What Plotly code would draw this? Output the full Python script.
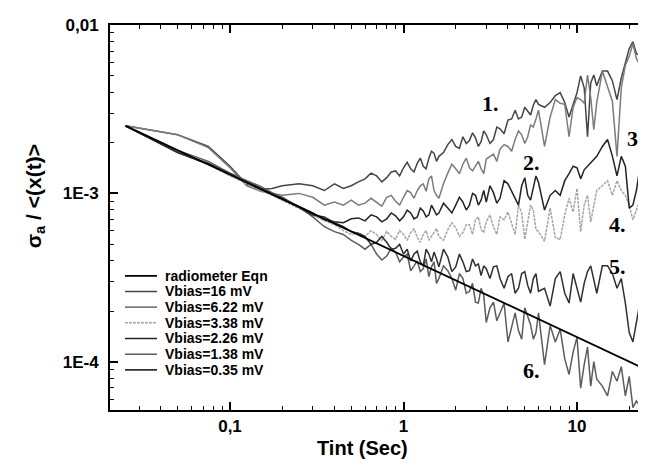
import plotly.graph_objects as go

# integration times (s): main sampling grid and the extra in-between samples (1-6 s zone)
tint = [0.025, 0.05, 0.075, 0.1, 0.125, 0.15, 0.175, 0.2, 0.25, 0.3, 0.35, 0.4, 0.45, 0.5,
        0.55, 0.6, 0.7, 0.8, 0.9, 1.0, 1.1, 1.2, 1.3, 1.4, 1.5, 1.6, 1.8, 2.0, 2.2, 2.4,
        2.6, 2.8, 3.0, 3.3, 3.6, 4.0, 4.4, 4.8, 5.2, 5.6, 6.0, 6.5, 7.0, 7.5, 8.0, 8.5,
        9.0, 9.5, 10, 10.5, 11, 11.5, 12, 12.5, 13, 14, 15, 16, 17, 18, 19, 20, 21, 22,
        23, 24, 25]
tint_mid = [0.65, 0.75, 0.85, 0.95, 1.05, 1.15, 1.25, 1.35, 1.45, 1.55, 1.7, 1.9, 2.1, 2.3,
            2.5, 2.7, 2.9, 3.15, 3.45, 3.8, 4.2, 4.6, 5.0, 5.4, 5.8]

rad_x = [0.025, 25]
rad_y = [2.52e-3, 9.0e-5]

v16 = [2.52e-3, 2.23e-3, 1.90e-3, 1.45e-3, 1.13e-3, 1.06e-3, 1.07e-3, 1.11e-3, 1.14e-3, 1.11e-3,
       1.04e-3, 1.14e-3, 1.07e-3, 1.11e-3, 1.17e-3, 1.22e-3, 1.27e-3, 1.24e-3, 1.36e-3, 1.42e-3,
       1.40e-3, 1.51e-3, 1.45e-3, 1.62e-3, 1.73e-3, 1.66e-3, 1.95e-3, 1.90e-3, 2.17e-3, 2.06e-3,
       2.14e-3, 2.03e-3, 2.23e-3, 2.09e-3, 2.42e-3, 2.73e-3, 3.12e-3, 2.84e-3, 3.08e-3, 3.34e-3,
       3.38e-3, 3.25e-3, 3.47e-3, 3.81e-3, 3.97e-3, 3.47e-3, 2.84e-3, 3.38e-3, 3.97e-3, 4.99e-3,
       4.24e-3, 2.17e-3, 4.54e-3, 5.05e-3, 4.36e-3, 5.33e-3, 5.33e-3, 4.66e-3, 3.61e-3, 4.85e-3,
       6.09e-3, 7.25e-3, 7.96e-3, 6.78e-3, 6.60e-3, 7.45e-3, 7.75e-3]
v16_mid = [1.32e-3, 1.17e-3, 1.34e-3, 1.27e-3, 1.53e-3, 1.34e-3, 1.62e-3, 1.40e-3, 1.78e-3,
           1.55e-3, 1.75e-3, 2.09e-3, 1.85e-3, 1.98e-3, 2.29e-3, 1.90e-3, 2.35e-3, 1.98e-3,
           2.48e-3, 2.26e-3, 2.77e-3, 2.77e-3, 3.25e-3, 2.92e-3, 3.61e-3]

v622 = [2.52e-3, 2.23e-3, 1.87e-3, 1.42e-3, 1.11e-3, 1.03e-3, 1.00e-3, 9.74e-4, 1.00e-3, 9.48e-4,
        8.52e-4, 8.87e-4, 8.52e-4, 9.11e-4, 8.52e-4, 8.75e-4, 8.87e-4, 9.48e-4, 8.98e-4, 9.48e-4,
        1.01e-3, 1.04e-3, 1.14e-3, 1.22e-3, 1.04e-3, 9.35e-4, 1.32e-3, 1.40e-3, 1.49e-3, 1.42e-3,
        1.45e-3, 1.40e-3, 1.60e-3, 1.71e-3, 1.83e-3, 1.90e-3, 2.09e-3, 2.23e-3, 2.17e-3, 2.48e-3,
        3.12e-3, 1.90e-3, 2.84e-3, 3.61e-3, 3.43e-3, 3.38e-3, 2.17e-3, 3.25e-3, 3.71e-3, 3.61e-3,
        3.43e-3, 5.05e-3, 3.71e-3, 2.39e-3, 3.47e-3, 5.33e-3, 4.24e-3, 3.52e-3, 1.66e-3, 4.24e-3,
        5.78e-3, 6.52e-3, 7.75e-3, 6.34e-3, 5.78e-3, 6.34e-3, 6.78e-3]
v622_mid = [9.35e-4, 8.40e-4, 9.74e-4, 8.52e-4, 1.04e-3, 9.35e-4, 1.11e-3, 1.03e-3, 1.27e-3,
            9.74e-4, 1.14e-3, 1.49e-3, 1.31e-3, 1.62e-3, 1.36e-3, 1.55e-3, 1.31e-3, 1.66e-3,
            1.55e-3, 1.95e-3, 1.78e-3, 2.35e-3, 1.98e-3, 2.55e-3, 2.77e-3]

v226 = [2.52e-3, 1.75e-3, 1.51e-3, 1.31e-3, 1.17e-3, 1.07e-3, 1.00e-3, 9.35e-4, 8.40e-4, 7.65e-4,
        6.97e-4, 6.78e-4, 6.69e-4, 7.06e-4, 7.15e-4, 6.87e-4, 7.25e-4, 7.06e-4, 7.35e-4, 7.25e-4,
        7.65e-4, 7.25e-4, 7.86e-4, 7.45e-4, 7.96e-4, 7.65e-4, 8.18e-4, 8.52e-4, 8.87e-4, 8.52e-4,
        9.74e-4, 9.11e-4, 8.87e-4, 1.01e-3, 9.35e-4, 1.14e-3, 9.35e-4, 1.11e-3, 9.74e-4, 1.08e-3,
        1.16e-3, 7.96e-4, 9.74e-4, 1.04e-3, 9.74e-4, 1.19e-3, 1.31e-3, 1.45e-3, 1.42e-3, 1.22e-3,
        1.38e-3, 1.45e-3, 1.51e-3, 1.60e-3, 1.66e-3, 1.90e-3, 2.09e-3, 1.66e-3, 1.27e-3, 1.66e-3,
        1.45e-3, 8.18e-4, 8.52e-4, 1.04e-3, 1.45e-3, 1.90e-3, 2.32e-3]
v226_mid = [7.45e-4, 6.78e-4, 7.65e-4, 6.87e-4, 7.96e-4, 7.06e-4, 8.18e-4, 7.25e-4, 8.52e-4,
            7.45e-4, 8.75e-4, 7.65e-4, 9.48e-4, 7.96e-4, 1.00e-3, 8.52e-4, 1.04e-3, 1.11e-3,
            8.75e-4, 1.19e-3, 1.04e-3, 8.52e-4, 1.24e-3, 9.11e-4, 1.27e-3]

v338 = [2.52e-3, 1.75e-3, 1.49e-3, 1.27e-3, 1.14e-3, 1.04e-3, 9.74e-4, 9.11e-4, 8.18e-4, 7.45e-4,
        6.87e-4, 6.52e-4, 6.01e-4, 5.70e-4, 5.85e-4, 5.55e-4, 5.70e-4, 5.93e-4, 5.33e-4, 5.70e-4,
        5.85e-4, 5.47e-4, 5.70e-4, 5.26e-4, 5.85e-4, 5.55e-4, 6.09e-4, 6.26e-4, 5.85e-4, 6.52e-4,
        6.97e-4, 6.09e-4, 6.78e-4, 6.34e-4, 7.25e-4, 7.75e-4, 5.70e-4, 7.65e-4, 6.78e-4, 7.96e-4,
        5.93e-4, 5.19e-4, 8.18e-4, 5.47e-4, 5.33e-4, 7.45e-4, 9.35e-4, 7.75e-4, 1.07e-3, 5.93e-4,
        8.52e-4, 9.74e-4, 6.78e-4, 8.52e-4, 1.04e-3, 1.11e-3, 1.19e-3, 9.74e-4, 1.19e-3, 1.04e-3,
        9.74e-4, 8.52e-4, 6.97e-4, 7.96e-4, 9.11e-4, 1.04e-3, 1.11e-3]
v338_mid = [6.01e-4, 5.26e-4, 5.55e-4, 6.01e-4, 5.26e-4, 6.18e-4, 5.12e-4, 6.01e-4, 5.55e-4,
            6.18e-4, 5.26e-4, 6.69e-4, 5.55e-4, 6.52e-4, 5.70e-4, 7.25e-4, 5.85e-4, 7.45e-4,
            5.70e-4, 6.97e-4, 6.52e-4, 8.52e-4, 5.33e-4, 8.52e-4, 6.09e-4]

v035 = [2.52e-3, 1.75e-3, 1.49e-3, 1.31e-3, 1.16e-3, 1.07e-3, 9.87e-4, 9.35e-4, 8.29e-4, 7.45e-4,
        7.25e-4, 6.69e-4, 6.34e-4, 5.93e-4, 5.78e-4, 5.55e-4, 5.12e-4, 5.12e-4, 4.72e-4, 4.36e-4,
        3.97e-4, 4.54e-4, 3.71e-4, 4.36e-4, 4.48e-4, 3.66e-4, 4.19e-4, 3.66e-4, 3.92e-4, 3.47e-4,
        3.71e-4, 3.25e-4, 3.57e-4, 3.66e-4, 3.12e-4, 3.20e-4, 2.55e-4, 3.34e-4, 2.84e-4, 3.12e-4,
        2.62e-4, 2.73e-4, 2.14e-4, 3.12e-4, 3.43e-4, 2.55e-4, 2.23e-4, 3.34e-4, 2.73e-4, 2.26e-4,
        2.92e-4, 3.43e-4, 3.71e-4, 3.12e-4, 2.55e-4, 3.71e-4, 3.71e-4, 3.34e-4, 2.73e-4, 3.12e-4,
        2.23e-4, 1.49e-4, 1.31e-4, 1.71e-4, 2.23e-4, 1.95e-4, 2.09e-4]
v035_mid = [4.98e-4, 5.55e-4, 4.66e-4, 4.98e-4, 4.66e-4, 4.36e-4, 3.92e-4, 4.66e-4, 3.92e-4,
            4.08e-4, 4.66e-4, 3.43e-4, 4.36e-4, 3.43e-4, 4.08e-4, 3.81e-4, 3.71e-4, 3.12e-4,
            3.71e-4, 2.73e-4, 3.34e-4, 2.73e-4, 3.43e-4, 2.55e-4, 3.34e-4]

v138 = [2.52e-3, 1.80e-3, 1.55e-3, 1.32e-3, 1.19e-3, 1.10e-3, 1.01e-3, 9.48e-4, 8.29e-4, 7.25e-4,
        6.34e-4, 5.93e-4, 5.70e-4, 5.26e-4, 4.98e-4, 4.66e-4, 4.36e-4, 4.24e-4, 4.48e-4, 4.19e-4,
        3.47e-4, 3.97e-4, 3.57e-4, 3.20e-4, 3.92e-4, 3.12e-4, 3.47e-4, 2.66e-4, 3.12e-4, 2.62e-4,
        2.26e-4, 2.73e-4, 1.71e-4, 2.26e-4, 1.95e-4, 1.31e-4, 1.95e-4, 1.36e-4, 1.88e-4, 1.36e-4,
        1.95e-4, 9.61e-5, 1.64e-4, 1.31e-4, 1.56e-4, 1.04e-4, 8.40e-5, 1.14e-4, 1.40e-4, 6.97e-5,
        9.61e-5, 1.22e-4, 7.16e-5, 1.00e-4, 7.86e-5, 7.16e-5, 6.26e-5, 8.75e-5, 7.65e-5, 9.35e-5,
        6.26e-5, 8.18e-5, 5.33e-5, 5.85e-5, 5.47e-5, 6.26e-5, 7.96e-5]
v138_mid = [4.98e-4, 4.02e-4, 4.72e-4, 3.92e-4, 4.36e-4, 3.71e-4, 3.43e-4, 4.08e-4, 3.66e-4,
            2.92e-4, 3.71e-4, 3.12e-4, 3.34e-4, 2.55e-4, 2.92e-4, 2.23e-4, 2.48e-4, 2.09e-4,
            1.75e-4, 2.23e-4, 1.60e-4, 1.53e-4, 2.09e-4, 1.66e-4, 1.49e-4]


def merged(main, mid):
    pairs = sorted(zip(tint + tint_mid, main + mid))
    return [p[0] for p in pairs], [p[1] for p in pairs]


legend_names = ["radiometer Eqn", "Vbias=16 mV", "Vbias=6.22 mV", "Vbias=3.38 mV",
                "Vbias=2.26 mV", "Vbias=1.38 mV", "Vbias=0.35 mV"]
curves = [(rad_x, rad_y), merged(v16, v16_mid), merged(v622, v622_mid), merged(v338, v338_mid),
          merged(v226, v226_mid), merged(v138, v138_mid), merged(v035, v035_mid)]
colors = ["#000000", "#454545", "#7c7c7c", "#a6a6a6", "#232323", "#5c5c5c", "#303030"]
widths = [1.8, 1.5, 1.5, 1.5, 1.5, 1.5, 1.5]
dashes = ["solid", "solid", "solid", "3px,1px", "solid", "solid", "solid"]

curve_labels = ["1.", "2.", "3.", "4.", "5.", "6."]
label_pos = [(0.709, 0.796, "center"), (0.787, 0.644, "center"), (1.0, 0.705, "right"),
             (0.946, 0.483, "center"), (0.946, 0.374, "center"), (0.787, 0.102, "center")]

fig = go.Figure()
# noisy series first, radiometer line on top
for i in list(range(1, 7)) + [0]:
    cx, cy = curves[i]
    fig.add_trace(go.Scatter(x=cx, y=cy, mode="lines", name=legend_names[i],
                             line=dict(color=colors[i], width=widths[i], dash=dashes[i]),
                             showlegend=False))

xminor = [m * 10 ** e for e in (-2, -1, 0, 1) for m in range(2, 10)]
yminor = [m * 10 ** e for e in (-5, -4, -3) for m in range(2, 10)]

tickfont = dict(family="Liberation Sans, Arial", size=17, color="black", weight="bold")
fig.update_xaxes(type="log", range=[-1.6916, 1.3977],
                 tickmode="array", tickvals=[0.1, 1, 10], ticktext=["0,1", "1", "10"],
                 ticks="inside", ticklen=8, tickwidth=1.5, tickcolor="black",
                 minor=dict(tickmode="array", tickvals=xminor, ticks="inside",
                            ticklen=4, tickwidth=1.2, tickcolor="black", showgrid=False),
                 showline=True, linecolor="black", linewidth=2, mirror="allticks",
                 showgrid=False, zeroline=False, tickfont=tickfont)
fig.update_yaxes(type="log", range=[-4.287, -1.9995],
                 tickmode="array", tickvals=[1e-4, 1e-3, 1e-2], ticktext=["1E-4", "1E-3", "0,01"],
                 ticks="inside", ticklen=8, tickwidth=1.5, tickcolor="black",
                 minor=dict(tickmode="array", tickvals=yminor, ticks="inside",
                            ticklen=4, tickwidth=1.2, tickcolor="black", showgrid=False),
                 showline=True, linecolor="black", linewidth=2, mirror=False,
                 showgrid=False, zeroline=False, ticklabelstandoff=6, tickfont=tickfont)

annotations = []
for t, (ax, ay, anc) in zip(curve_labels, label_pos):
    annotations.append(dict(text=t, x=ax, y=ay, xref="paper", yref="paper", showarrow=False,
                            xanchor=anc, yanchor="middle",
                            font=dict(family="Liberation Serif, Times New Roman", size=22,
                                      color="black", weight="bold")))
annotations.append(dict(text="Tint (Sec)", x=0.472, y=-0.099, xref="paper", yref="paper",
                        showarrow=False, xanchor="center", yanchor="middle",
                        font=dict(family="Liberation Sans, Arial", size=20, color="black", weight="bold")))
annotations.append(dict(text="σ<sub>a</sub> / &lt;(x(t)&gt;", x=-0.140, y=0.555, xref="paper", yref="paper",
                        showarrow=False, xanchor="center", yanchor="middle", textangle=-90,
                        font=dict(family="Liberation Sans, Arial", size=21, color="black", weight="bold")))

# legend drawn as key lines + text, matching the compact row spacing of the original
shapes = []
row_y = [0.3486, 0.3079, 0.2672, 0.2265, 0.1858, 0.1450, 0.1043]
for i, ry in enumerate(row_y):
    shapes.append(dict(type="line", xref="paper", yref="paper", x0=0.028, x1=0.0877, y0=ry, y1=ry,
                       line=dict(color=colors[i], width=1.8 if i == 0 else 1.6, dash=dashes[i])))
    annotations.append(dict(text=legend_names[i], x=0.0989, y=ry, xref="paper", yref="paper",
                            showarrow=False, xanchor="left", yanchor="middle",
                            font=dict(family="Liberation Sans, Arial", size=14, color="black",
                                      weight="bold")))

fig.update_layout(
    width=646, height=471,
    margin=dict(l=102, r=8, t=9, b=69),
    paper_bgcolor="white", plot_bgcolor="white",
    showlegend=False,
    annotations=annotations,
    shapes=shapes,
)

fig.write_html("out.html")
